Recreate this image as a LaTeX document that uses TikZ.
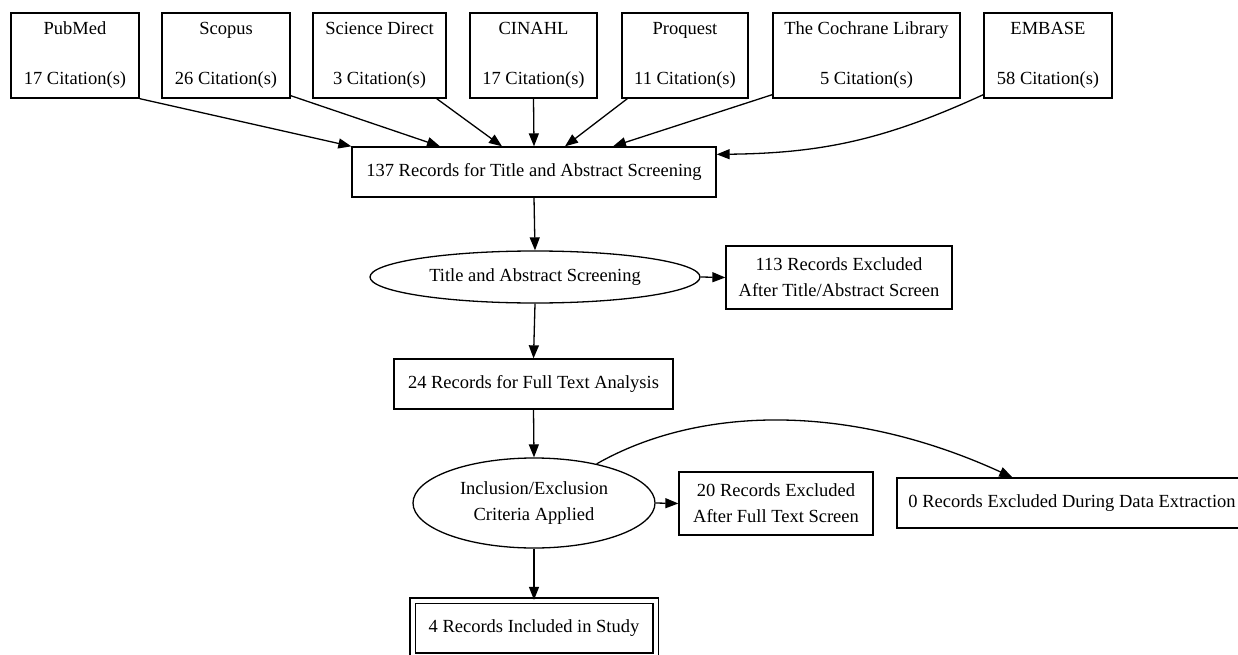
\documentclass[tikz,border=0pt]{standalone}
\usepackage{fontspec}
\setmainfont{Liberation Serif}
\usetikzlibrary{arrows.meta,shapes.geometric,calc}

\begin{document}
\begin{tikzpicture}[x=1pt,y=-1pt,
    box/.style={draw,line width=1.3pt,inner sep=0pt,align=center},
    oval/.style={draw,ellipse,line width=1.3pt,inner sep=0pt,align=center},
    arr/.style={-{Triangle[length=13pt,width=10pt]},line width=1.3pt},
    font=\fontsize{18.5}{26}\selectfont]
    \useasboundingbox(0,0)rectangle(1238,655);
    % databases
    \node[box,minimum width=128,minimum height=85](pubmed)at(75,55.5){PubMed\\[24pt]17 Citation(s)};
    \node[box,minimum width=128,minimum height=85](scopus)at(226,55.5){Scopus\\[24pt]26 Citation(s)};
    \node[box,minimum width=133,minimum height=85](scidir)at(379.5,55.5){Science Direct\\[24pt]3 Citation(s)};
    \node[box,minimum width=127,minimum height=85](cinahl)at(533.5,55.5){CINAHL\\[24pt]17 Citation(s)};
    \node[box,minimum width=126,minimum height=85](proquest)at(685,55.5){Proquest\\[24pt]11 Citation(s)};
    \node[box,minimum width=187,minimum height=85](cochrane)at(866.5,55.5){The Cochrane Library\\[24pt]5 Citation(s)};
    \node[box,minimum width=128,minimum height=85](embase)at(1048,55.5){EMBASE\\[24pt]58 Citation(s)};
    % screening steps
    \node[box,minimum width=364,minimum height=50](records)at(534,172){137 Records for Title and Abstract Screening};
    \node[oval,minimum width=330,minimum height=52](screen)at(535,277){\makebox[0pt]{Title and Abstract Screening}};
    \node[box,minimum width=226,minimum height=63](excltitle)at(839,277.5){113 Records Excluded\\After Title/Abstract Screen};
    \node[box,minimum width=279,minimum height=50](fulltext)at(533.5,384){24 Records for Full Text Analysis};
    \node[oval,minimum width=242,minimum height=90](criteria)at(534,503){\makebox[0pt]{Inclusion/Exclusion}\\\makebox[0pt]{Criteria Applied}};
    \node[box,minimum width=194,minimum height=63](exclfull)at(776,503.5){20 Records Excluded\\After Full Text Screen};
    \node[box,minimum width=350,minimum height=50](extract)at(1072,503){0 Records Excluded During Data Extraction};
    \node[box,double,double distance=4pt,minimum width=243,minimum height=55](included)at(534,628){4 Records Included in Study};
    % arrows
    \draw[arr](pubmed.south east)--(records.north west);
    \draw[arr]($(scopus.south east)+(0,-3)$)--($(records.north)+(-94,0)$);
    \draw[arr]($(scidir.south east)+(-10,0)$)--($(records.north)+(-32,0)$);
    \draw[arr](cinahl.south)--(records.north);
    \draw[arr]($(proquest.south west)+(6,0)$)--($(records.north)+(31,0)$);
    \draw[arr]($(cochrane.south west)+(0,-4)$)--($(records.north)+(79,0)$);
    \draw[arr]($(embase.south west)+(0,-4)$)to[bend left=12]($(records.north east)+(0,8)$);
    \draw[arr](records.south)--(screen.north);
    \draw[arr](screen.east)--(excltitle.west);
    \draw[arr](screen.south)--(fulltext.north);
    \draw[arr](fulltext.south)--(criteria.north);
    \draw[arr](criteria.east)--(exclfull.west);
    \draw[arr](criteria.32)..controls(700,405)and(850,403)..($(extract.north west)+(116,0)$);
    \draw[arr](criteria.south)--(included.north);
\end{tikzpicture}
\end{document}
